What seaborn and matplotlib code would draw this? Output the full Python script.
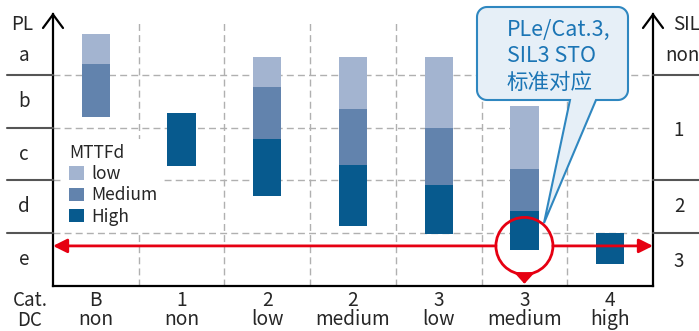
import numpy as np
import pandas as pd
import seaborn as sns
import matplotlib
matplotlib.use("Agg")
import matplotlib.pyplot as plt
import matplotlib.transforms as mtransforms
from matplotlib.patches import Patch, Ellipse, PathPatch
from matplotlib.path import Path
from matplotlib.lines import Line2D

# ---------------- data ----------------
cat_labels = ["B", "1", "2", "2", "3", "3", "4"]
dc_labels = ["non", "non", "low", "medium", "low", "medium", "high"]
# PL scale: e = 0..1, d = 1..2, c = 2..3, b = 3..4, a = 4..5
low_top = [4.78, 3.28, 4.34, 4.34, 4.34, 3.41, 1.00]
low_medium_edge = [4.21, 3.28, 3.77, 3.36, 3.00, 2.22, 1.00]
medium_high_edge = [3.20, 3.28, 2.79, 2.29, 1.91, 1.42, 1.00]
high_bottom = [3.20, 2.28, 1.71, 1.14, 0.99, 0.69, 0.42]
pl_levels = ["a", "b", "c", "d", "e"]
pl_pos = [4.36, 3.5, 2.5, 1.5, 0.5]
sil_levels = ["non", "1", "2", "3"]
sil_pos = [4.36, 2.95, 1.5, 0.47]
mttfd_levels = ["low", "Medium", "High"]
required_pl = 0.76          # PLe / SIL3 line
highlight_cat = 5           # 3 / medium
callout_lines = ["PLe/Cat.3,", "SIL3 STO", "标准对应"]

colors = ["#A3B4D0", "#6283AD", "#075A8E"]
red = "#E60012"

# ---------------- figure ----------------
sns.set_style("white")
plt.rcParams["font.family"] = ["Noto Sans CJK SC", "DejaVu Sans"]

W, H = 699, 331
fig = plt.figure(figsize=(W / 100, H / 100), dpi=100)
YTOP = 5.15
ax = fig.add_axes([53 / W, 45 / H, 600 / W, (286 - 14.3) / H])
xunit = 600 / 7
yunit = (286 - 14.3) / YTOP

# pixel transform (origin top-left in image pixel units)
pxT = mtransforms.Affine2D().scale(1, -1).translate(0, H).scale(1 / 100) + fig.dpi_scale_trans

df = pd.DataFrame({
    "cat": [f"{c}\n{d}" for c, d in zip(cat_labels, dc_labels)],
    "low_top": low_top, "lm": low_medium_edge, "mh": medium_high_edge, "bot": high_bottom,
})
df["low_h"] = df["low_top"] - df["lm"]
df["med_h"] = df["lm"] - df["mh"]
df["high_h"] = df["mh"] - df["bot"]

for col, base, c in [("low_h", "lm", colors[0]), ("med_h", "mh", colors[1]), ("high_h", "bot", colors[2])]:
    sns.barplot(data=df, x="cat", y=col, bottom=df[base].to_numpy(), color=c, saturation=1,
                width=0.33, errorbar=None, ax=ax, zorder=2, linewidth=0)

ax.set_xlim(-0.5, 6.5)
ax.set_ylim(0, YTOP)
ax.set_xlabel("")
ax.set_ylabel("")
ax.set_yticks([])
ax.tick_params(axis="x", length=0, pad=3, labelsize=13.8)
for lab in ax.get_xticklabels():
    lab.set_linespacing(0.88)

# grid
grid_kw = dict(color="#B0B0B0", lw=1.0, ls=(0, (5, 3)), zorder=1)
for yv in [1, 2, 3, 4]:
    ax.plot([-0.5, 6.5], [yv, yv], **grid_kw)
for xv in np.arange(0.5, 6.0, 1.0):
    ax.plot([xv, xv], [0, 5], **grid_kw)

# spines
ax.spines["top"].set_visible(False)
for s in ["left", "right", "bottom"]:
    ax.spines[s].set_color("black")
    ax.spines[s].set_linewidth(1.6)

# axis arrow chevrons
for xp in [53, 653]:
    fig.add_artist(Line2D([xp - 10, xp, xp + 10], [28, 14.5, 28], color="black", lw=1.6,
                          transform=pxT, solid_joinstyle="miter"))

# side separator lines
for yv in [1, 2, 3, 4]:
    yp = 286 - yv * yunit
    fig.add_artist(Line2D([7, 53], [yp, yp], color="#555555", lw=1.5, transform=pxT))
for yv in [1, 2, 4]:
    yp = 286 - yv * yunit
    fig.add_artist(Line2D([653, 699], [yp, yp], color="#555555", lw=1.5, transform=pxT))

# side labels
bt = mtransforms.blended_transform_factory(pxT, ax.transData)
fs = 13.5
fig.text(22, 25, "PL", transform=pxT, ha="center", va="center", fontsize=fs)
for lab, yv in zip(pl_levels, pl_pos):
    ax.text(24, yv, lab, transform=bt, ha="center", va="center", fontsize=fs)
fig.text(673, 25, "SIL", transform=pxT, ha="left", va="center", fontsize=fs)
for lab, yv in zip(sil_levels, sil_pos):
    ax.text(682 if lab == "non" else 679, yv, lab, transform=bt, ha="center", va="center", fontsize=fs)
fig.text(30, 300, "Cat.", transform=pxT, ha="center", va="center", fontsize=fs)
fig.text(30, 320, "DC", transform=pxT, ha="center", va="center", fontsize=fs)

# legend
handles = [Patch(facecolor=c, edgecolor="none") for c in colors]
leg = ax.legend(handles, mttfd_levels, title="MTTFd", loc="upper left",
                bbox_to_anchor=(64, 139), bbox_transform=pxT, frameon=True,
                facecolor="white", edgecolor="none", framealpha=1, fancybox=False,
                fontsize=12.5, title_fontsize=12.5, alignment="left",
                handlelength=0.85, handleheight=0.85, handletextpad=0.4,
                labelspacing=0.18, borderpad=0.3, borderaxespad=0)
leg.set_zorder(4)

# red requirement line + circle
rx = 28.5 / xunit
ry = 28.5 / yunit
arrow_kw = dict(arrowstyle="-|>,head_length=0.6,head_width=0.3", color=red, lw=2,
                mutation_scale=14, shrinkA=0, shrinkB=0)
ax.annotate("", xy=(-0.5, required_pl), xytext=(highlight_cat - rx, required_pl),
            arrowprops=arrow_kw, annotation_clip=False, zorder=5)
ax.annotate("", xy=(6.5, required_pl), xytext=(highlight_cat + rx, required_pl),
            arrowprops=arrow_kw, annotation_clip=False, zorder=5)
ax.add_patch(Ellipse((highlight_cat, required_pl), 2 * rx, 2 * ry, fill=False,
                     ec=red, lw=2, zorder=6, clip_on=False))
ax.annotate("", xy=(highlight_cat, 0.04), xytext=(highlight_cat, required_pl - ry),
            arrowprops=dict(arrowstyle="-|>,head_length=0.5,head_width=0.45", color=red, lw=2,
                            mutation_scale=12, shrinkA=0, shrinkB=0),
            annotation_clip=False, zorder=6)

# callout
x0, x1, y0, y1, r = 477, 628, 7, 100, 10
tip = (544, 223)
verts = [(x0 + r, y0), (x1 - r, y0)]
def arc(cx, cy, a0, a1):
    t = np.radians(np.linspace(a0, a1, 12))
    return list(zip(cx + r * np.cos(t), cy + r * np.sin(t)))
verts += arc(x1 - r, y0 + r, -90, 0)
verts += [(x1, y1 - r)]
verts += arc(x1 - r, y1 - r, 0, 90)
verts += [(596, y1), tip, (570, y1), (x0 + r, y1)]
verts += arc(x0 + r, y1 - r, 90, 180)
verts += [(x0, y0 + r)]
verts += arc(x0 + r, y0 + r, 180, 270)
verts += [verts[0]]
codes = [Path.MOVETO] + [Path.LINETO] * (len(verts) - 2) + [Path.CLOSEPOLY]
fig.add_artist(PathPatch(Path(verts, codes), facecolor="#E6EFF7", edgecolor="#2F87C0",
                         lw=1.5, transform=pxT, zorder=3))
for i, line in enumerate(callout_lines):
    fig.text(507, 30 + i * 26.5, line, transform=pxT, ha="left", va="center",
             fontsize=15.5, color="#1B75B5", zorder=4)

fig.savefig("out.png", dpi=100)
